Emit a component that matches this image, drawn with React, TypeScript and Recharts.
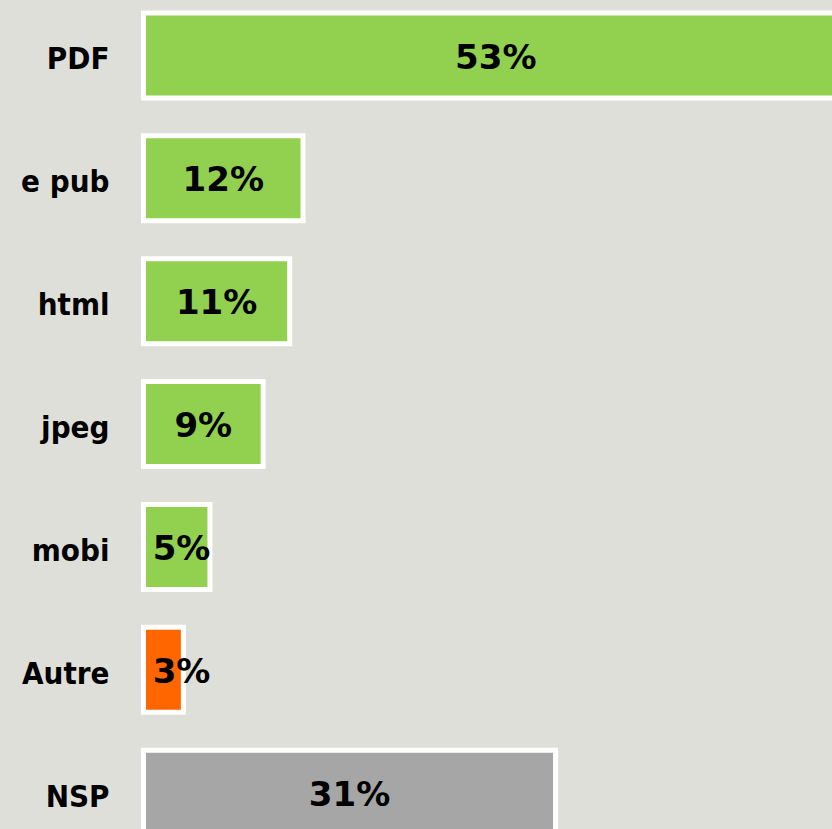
import { BarChart, Bar, XAxis, YAxis, Cell, LabelList } from 'recharts'

// formats de fichiers
const categories = ['PDF', 'e pub', 'html', 'jpeg', 'mobi', 'Autre', 'NSP']
const values = [53, 12, 11, 9, 5, 3, 31]
const colors = ['#92d050', '#92d050', '#92d050', '#92d050', '#92d050', '#ff6600', '#a6a6a6']

const data = categories.map((name, i) => ({ name, value: values[i] }))

const FONT = '"DejaVu Sans", Verdana, sans-serif'
const FONT_CAT = '"DejaVu Sans Condensed", "DejaVu Sans", Tahoma, sans-serif'

function ValueLabel(props: any) {
  const { x, y, width, height, value } = props
  // petites barres : le texte déborde vers la droite
  const cx = Math.max(x + width / 2, x + 38)
  return (
    <text
      x={cx}
      y={y + height / 2 + 1}
      textAnchor="middle"
      dominantBaseline="central"
      fontFamily={FONT}
      fontWeight="bold"
      fontSize={34}
      fill="#000"
    >
      {value}%
    </text>
  )
}

export default function App() {
  return (
    <div
      style={{
        position: 'fixed', left: 0, top: 0, width: 832, height: 829,
        overflow: 'hidden', background: '#dfdfd9',
      }}
    >
      <div style={{ position: 'absolute', left: 0, top: -6 }}>
        <BarChart
          width={848}
          height={860}
          layout="vertical"
          data={data}
          margin={{ top: 0, right: 0, bottom: 0, left: 0 }}
        >
          <XAxis type="number" domain={[0, 53]} hide />
          <YAxis
            type="category"
            dataKey="name"
            width={143.5}
            axisLine={false}
            tickLine={false}
            tickSize={0}
            tickMargin={34}
            dy={3}
            tick={{ fill: '#000', fontFamily: FONT_CAT, fontWeight: 'bold', fontSize: 31 }}
          />
          <Bar dataKey="value" barSize={85} stroke="#fff" strokeWidth={5} isAnimationActive={false}>
            {data.map((d, i) => (
              <Cell key={d.name} fill={colors[i]} />
            ))}
            <LabelList dataKey="value" content={ValueLabel} />
          </Bar>
        </BarChart>
      </div>
    </div>
  )
}
